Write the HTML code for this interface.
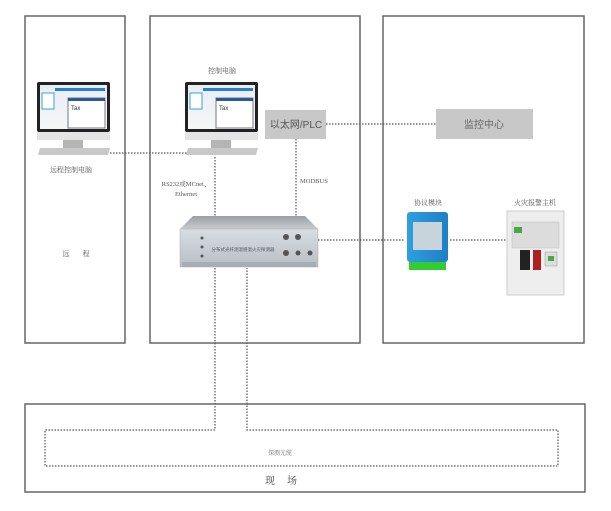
<!DOCTYPE html>
<html><head><meta charset="utf-8"><style>
html,body{margin:0;padding:0;background:#fff;}
svg{display:block;}
text{font-family:"Liberation Sans","Noto Sans CJK SC",sans-serif;}
.sr{font-family:"Liberation Serif","Noto Serif CJK SC",serif;}
</style></head><body>
<svg width="611" height="511" viewBox="0 0 611 511" xmlns="http://www.w3.org/2000/svg">
<defs>
<linearGradient id="scr" x1="0" y1="0" x2="0" y2="1"><stop offset="0" stop-color="#e8eef4"/><stop offset="1" stop-color="#f6f6f6"/></linearGradient>
<linearGradient id="dev" x1="0" y1="0" x2="0" y2="1"><stop offset="0" stop-color="#d8dde2"/><stop offset="1" stop-color="#b8bec4"/></linearGradient>
<linearGradient id="devtop" x1="0" y1="0" x2="0" y2="1"><stop offset="0" stop-color="#9aa0a6"/><stop offset="1" stop-color="#c8ccd0"/></linearGradient>
<linearGradient id="blue" x1="0" y1="0" x2="1" y2="0"><stop offset="0" stop-color="#2e9fe0"/><stop offset="1" stop-color="#1f7fc4"/></linearGradient>
</defs>
<g fill="none" stroke="#666" stroke-width="1.5">
<rect x="25" y="16" width="100" height="327"/>
<rect x="150" y="16" width="210" height="327"/>
<rect x="383" y="16" width="201" height="327"/>
<rect x="25" y="404" width="560" height="88"/>
</g>
<g fill="none" stroke="#555" stroke-width="1.2" stroke-dasharray="1.5,1.5">
<polyline points="215,268 215,430 45,430 45,466 558,466 558,430 247,430 247,268"/>
<line x1="110" y1="153" x2="188" y2="153"/>
<line x1="326" y1="124" x2="436" y2="124"/>
<line x1="296" y1="139" x2="296" y2="218"/>
<line x1="215" y1="157" x2="215" y2="218"/>
<line x1="318" y1="240" x2="405" y2="240"/>
<line x1="450" y1="240" x2="507" y2="240"/>
</g>
<!-- monitors -->
<g id="mon">
<rect x="37" y="82" width="73" height="50" rx="2" fill="#222"/>
<rect x="40" y="85" width="67" height="44" fill="url(#scr)"/>
<rect x="55" y="88" width="50" height="3" fill="#2a7fd0"/>
<rect x="42" y="93" width="12" height="16" fill="#fff" stroke="#3aa0e0"/>
<rect x="68" y="98" width="37" height="30" fill="#fff" stroke="#778"/>
<rect x="68" y="98" width="37" height="3" fill="#2a5a9a"/>
<text x="71" y="110" font-size="6" fill="#333">Tax</text>
<rect x="37" y="132" width="73" height="8" fill="#e4e4e4"/>
<rect x="63" y="140" width="20" height="8" fill="#b4b4b4"/>
<polygon points="40,148 110,148 108,155 38,155" fill="#c8c8c8"/>
</g>
<use href="#mon" x="148" y="0"/>
<text class="sr" x="71" y="172" font-size="7" fill="#555" text-anchor="middle">远程控制电脑</text>
<text class="sr" x="222" y="73" font-size="7" fill="#555" text-anchor="middle">控制电脑</text>
<text class="sr" x="66" y="256" font-size="7" fill="#555" text-anchor="middle">远</text>
<text class="sr" x="86" y="256" font-size="7" fill="#555" text-anchor="middle">程</text>
<!-- ethernet box -->
<rect x="265" y="110" width="61" height="29" fill="#c8c8c8"/>
<text x="296" y="128" font-size="10" fill="#555" text-anchor="middle">以太网/PLC</text>
<rect x="436" y="109" width="97" height="30" fill="#c8c8c8"/>
<text x="484" y="128" font-size="10" fill="#666" text-anchor="middle">监控中心</text>
<text class="sr" x="186" y="186" font-size="6.5" fill="#555" text-anchor="middle">RS232或MCnet、</text>
<text class="sr" x="186" y="196" font-size="6.5" fill="#555" text-anchor="middle">Ethernet</text>
<text class="sr" x="300" y="183" font-size="6.5" fill="#555">MODBUS</text>
<!-- device -->
<polygon points="193,216 305,216 318,229 180,229" fill="url(#devtop)"/>
<rect x="180" y="229" width="138" height="38" fill="url(#dev)" stroke="#aaa" stroke-width="0.5"/>
<rect x="182" y="262" width="134" height="5" fill="#a8adb2"/>
<g fill="#555"><circle cx="202" cy="238" r="1.5"/><circle cx="202" cy="247" r="1.5"/><circle cx="202" cy="256" r="1.5"/>
<circle cx="286" cy="237" r="3"/><circle cx="298" cy="237" r="3"/><circle cx="286" cy="253" r="3"/><circle cx="298" cy="253" r="2.5"/><circle cx="310" cy="253" r="2.5"/></g>
<text x="243" y="251" font-size="4.5" fill="#555" text-anchor="middle">分布式光纤测温感温火灾探测器</text>
<!-- module -->
<text class="sr" x="428" y="205" font-size="7" fill="#555" text-anchor="middle">协议模块</text>
<rect x="407" y="212" width="41" height="50" rx="3" fill="url(#blue)"/>
<rect x="413" y="222" width="29" height="28" fill="#c8d4dc"/>
<rect x="409" y="262" width="37" height="8" fill="#3c3"/>
<!-- panel -->
<text class="sr" x="535" y="205" font-size="7" fill="#555" text-anchor="middle">火灾报警主机</text>
<rect x="507" y="211" width="57" height="84" fill="#eeeeee" stroke="#ccc"/>
<rect x="512" y="222" width="47" height="26" fill="#dcdcdc" stroke="#bbb" stroke-width="0.5"/>
<rect x="514" y="227" width="8" height="6" fill="#4a4"/>
<rect x="520" y="250" width="10" height="20" fill="#222"/>
<rect x="533" y="250" width="8" height="20" fill="#a22"/>
<rect x="545" y="252" width="12" height="14" fill="#ddd" stroke="#999" stroke-width="0.5"/>
<rect x="548" y="256" width="6" height="5" fill="#4a4"/>
<text class="sr" x="280" y="455" font-size="6" fill="#777" text-anchor="middle">探测光缆</text>
<text class="sr" x="270" y="484" font-size="10" fill="#444" text-anchor="middle">现</text>
<text class="sr" x="292" y="484" font-size="10" fill="#444" text-anchor="middle">场</text>
</svg>
</body></html>
